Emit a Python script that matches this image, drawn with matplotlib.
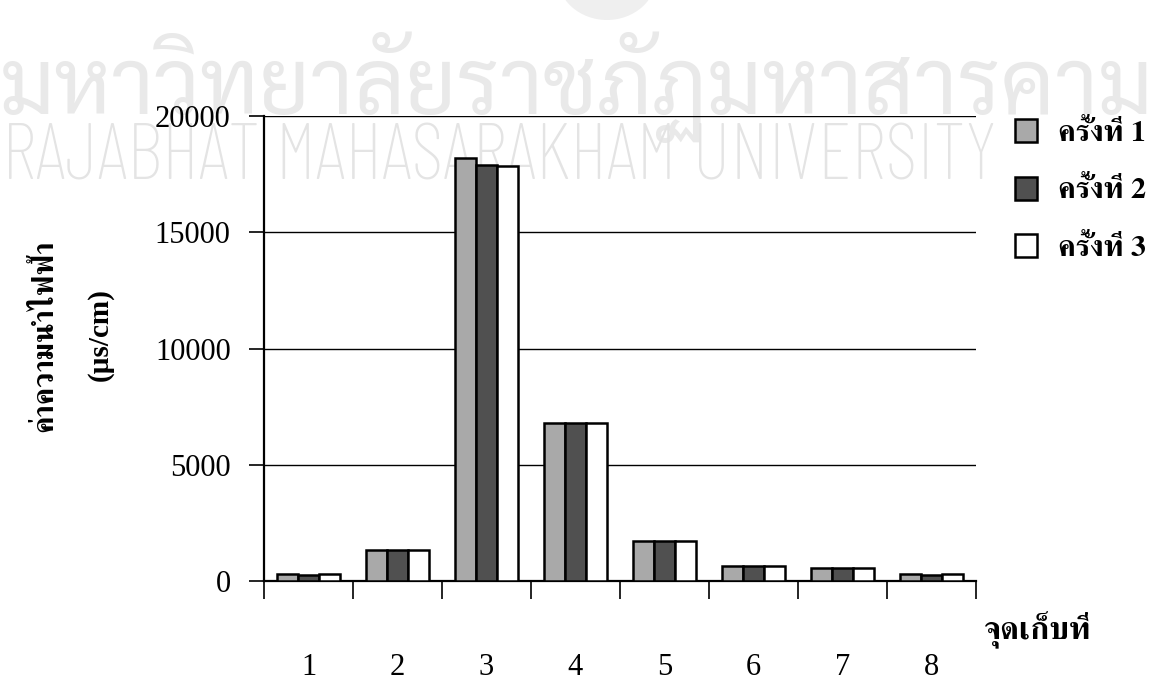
import matplotlib
matplotlib.use("Agg")
import matplotlib.pyplot as plt
from matplotlib.patches import Patch, Ellipse
import numpy as np
import logging
logging.getLogger("matplotlib.font_manager").setLevel(logging.ERROR)

# ---------------- data ----------------
categories = ["1", "2", "3", "4", "5", "6", "7", "8"]
series_names = ["ครั้งที่ 1", "ครั้งที่ 2", "ครั้งที่ 3"]
round1 = [300, 1350, 18200, 6800, 1700, 650, 550, 280]
round2 = [260, 1350, 17900, 6800, 1700, 650, 550, 250]
round3 = [300, 1350, 17850, 6800, 1700, 650, 550, 280]
y_ticks = [0, 5000, 10000, 15000, 20000]
y_label_1 = "ค่าความนำไฟฟ้า"
y_label_2 = "(µs/cm)"
x_label = "จุดเก็บที่"
wm_thai = "มหาวิทยาลัยราชภัฏมหาสารคาม"
wm_latin = "RAJABHAT MAHASARAKHAM UNIVERSITY"

# ---------------- style ----------------
W, H = 1158, 682
DPI = 100
thai_serif = ["Norasi", "FreeSerif", "Liberation Serif", "DejaVu Serif"]
num_serif = ["Liberation Serif", "FreeSerif", "DejaVu Serif"]
wm_thai_font = ["Laksaman", "Sarabun", "Loma", "DejaVu Sans"]
wm_latin_font = ["Barlow Condensed", "Oswald", "Roboto Condensed",
                 "Liberation Sans Narrow", "Liberation Sans", "DejaVu Sans"]
fills = ["#a9a9a9", "#505050", "#ffffff"]
wm_thai_color = "#e9e9e9"
wm_latin_color = "#e4e4e4"

fig = plt.figure(figsize=(W / DPI, H / DPI), dpi=DPI)
fig.patch.set_facecolor("white")

# axes placed in pixel terms: x from 264 to 976, y from 116 (top) to 581 (bottom)
ax = fig.add_axes([264 / W, 1 - 581 / H, (976 - 264) / W, (581 - 116) / H])
ax.patch.set_visible(False)

x = np.arange(len(categories))
bw = 0.235
for i, (vals, col) in enumerate(zip([round1, round2, round3], fills)):
    ax.bar(x + (i - 1) * bw, vals, width=bw, color=col, edgecolor="black",
           linewidth=1.8, zorder=3)

ax.set_xlim(-0.5, len(categories) - 0.5)
ax.set_ylim(0, 20000)

# gridlines
ax.set_yticks(y_ticks)
ax.yaxis.grid(True, color="black", linewidth=1.0, zorder=1)
ax.set_axisbelow(True)

for s in ["top", "right"]:
    ax.spines[s].set_visible(False)
for s in ["left", "bottom"]:
    ax.spines[s].set_linewidth(1.6)

ax.tick_params(axis="y", direction="out", length=11, width=1.2, pad=13,
               labelsize=22)
for lab in ax.get_yticklabels():
    lab.set_family(num_serif)

# x ticks at category boundaries, labels at centres
ax.set_xticks(np.arange(-0.5, len(categories), 1.0))
ax.set_xticklabels([])
ax.tick_params(axis="x", which="major", direction="out", length=13, width=1.2)
ax.set_xticks(x, minor=True)
ax.set_xticklabels(categories, minor=True, fontsize=22, family=num_serif)
ax.tick_params(axis="x", which="minor", length=0, pad=52)

# axis titles
fig.text(45 / W, 1 - 336 / H, y_label_1, rotation=90, ha="center", va="center",
         fontsize=21, fontweight="bold", family=thai_serif)
fig.text(100 / W, 1 - 335 / H, y_label_2, rotation=90, ha="center", va="center",
         fontsize=21, fontweight="bold", family=num_serif)
fig.text(1038 / W, 1 - 630 / H, x_label, ha="center", va="center",
         fontsize=23, fontweight="bold", family=thai_serif)

# legend
handles = [Patch(facecolor=c, edgecolor="black", linewidth=1.8) for c in fills]
leg = fig.legend(handles, series_names, loc="upper left",
                 bbox_to_anchor=(1015 / W, 1 - 119 / H),
                 frameon=False, handlelength=0.72, handleheight=0.8,
                 handletextpad=0.72, labelspacing=1.0, borderaxespad=0,
                 borderpad=0,
                 prop={"family": thai_serif, "weight": "bold", "size": 21.5})

# watermark (drawn beneath everything)
renderer = fig.canvas.get_renderer()
def fitted_text(s, x0, y_base, target_w, fam, weight, color):
    t = fig.text(x0 / W, 1 - y_base / H, s, ha="left", va="baseline",
                 fontsize=50, color=color, family=fam, fontweight=weight,
                 zorder=-5)
    w = t.get_window_extent(renderer).width
    t.set_fontsize(50 * target_w / w)
    return t

fitted_text(wm_thai, 0, 114, 1155, wm_thai_font, "normal", wm_thai_color)
fitted_text(wm_latin, 2, 180, 996, wm_latin_font, "light", wm_latin_color)

# faint emblem edge at top centre
fig.add_artist(Ellipse((607 / W, 1 + 25 / H), 100 / W, 90 / H,
                       transform=fig.transFigure, facecolor="#efefef",
                       edgecolor="none", zorder=-6))

fig.savefig("out.png", dpi=DPI)
